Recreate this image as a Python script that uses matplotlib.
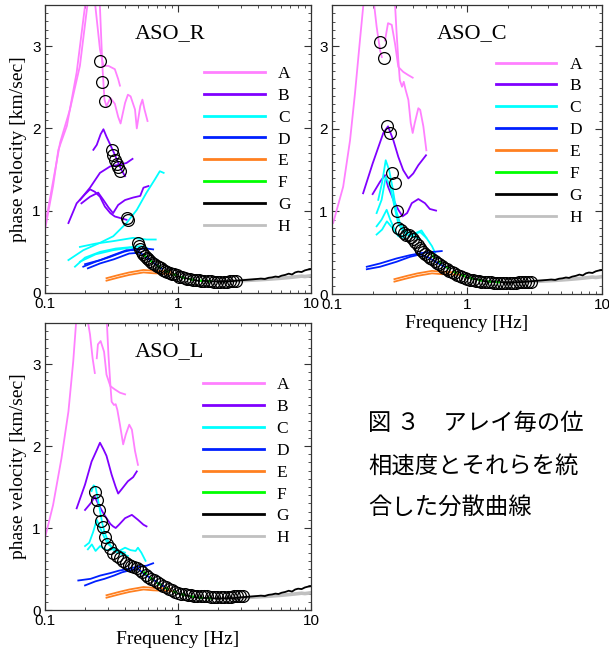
import matplotlib
matplotlib.use("Agg")
import matplotlib.pyplot as plt
from matplotlib.lines import Line2D
from matplotlib.ticker import LogLocator, MultipleLocator, NullFormatter, FixedLocator, FixedFormatter

# ---------------- data ----------------
LEGEND_LABELS = ["A", "B", "C", "D", "E", "F", "G", "H"]
COLORS = {"A": "#ff80ff", "B": "#8000ff", "C": "#00ffff", "D": "#0020ff",
          "E": "#ff8020", "F": "#00ff00", "G": "#000000", "H": "#c0c0c0"}

# ---- ASO_R ----
R_A = [
    ([0.097, 0.115, 0.126, 0.146, 0.173, 0.2, 0.205], [0.65, 1.3, 1.74, 2.03, 2.68, 3.49, 3.6]),
    ([0.103, 0.13, 0.154, 0.183, 0.208, 0.212], [0.93, 1.83, 2.23, 2.76, 3.49, 3.6]),
    ([0.235, 0.259, 0.275, 0.3, 0.335, 0.355, 0.366], [3.6, 2.96, 2.76, 2.76, 2.72, 2.6, 2.52]),
    ([0.257, 0.27, 0.28, 0.29, 0.31, 0.335, 0.355, 0.37, 0.4, 0.42, 0.44, 0.475, 0.49, 0.52, 0.54, 0.56, 0.59],
     [3.6, 2.76, 2.35, 2.27, 2.37, 2.3, 2.14, 2.06, 2.31, 2.41, 2.39, 2.23, 2.0, 2.27, 2.35, 2.23, 2.09]),
]
R_B = [
    ([0.231, 0.245, 0.262, 0.275, 0.29, 0.31, 0.335, 0.36, 0.38, 0.4], [1.74, 1.8, 1.93, 1.99, 1.9, 1.8, 1.68, 1.56, 1.48, 1.42]),
    ([0.183, 0.218, 0.259, 0.31, 0.366, 0.41, 0.455], [1.13, 1.28, 1.46, 1.54, 1.56, 1.58, 1.63]),
    ([0.15, 0.173, 0.2, 0.218, 0.237, 0.259, 0.282, 0.31, 0.335, 0.37, 0.41], [0.85, 1.09, 1.2, 1.26, 1.23, 1.17, 1.05, 0.97, 0.93, 0.91, 0.89]),
    ([0.188, 0.218, 0.251, 0.275, 0.3, 0.325, 0.355, 0.4, 0.46, 0.52, 0.55, 0.6], [1.09, 1.17, 1.22, 1.13, 1.04, 0.97, 1.07, 1.13, 1.16, 1.18, 1.28, 1.3]),
]
R_C = [
    ([0.15, 0.194, 0.259, 0.326, 0.41, 0.49, 0.58, 0.67, 0.73, 0.78], [0.40, 0.52, 0.61, 0.69, 0.85, 1.01, 1.22, 1.38, 1.48, 1.46]),
    ([0.183, 0.24, 0.325, 0.46, 0.58, 0.68], [0.56, 0.60, 0.63, 0.67, 0.65, 0.65]),
    ([0.168, 0.2, 0.26, 0.34, 0.46, 0.53, 0.58], [0.32, 0.43, 0.50, 0.54, 0.56, 0.57, 0.55]),
    ([0.183, 0.24, 0.325, 0.43, 0.5], [0.38, 0.47, 0.52, 0.55, 0.54]),
]
R_D = [
    ([0.194, 0.24, 0.31, 0.39, 0.46, 0.58, 0.65], [0.32, 0.38, 0.44, 0.50, 0.53, 0.54, 0.53]),
    ([0.2, 0.26, 0.325, 0.41, 0.49, 0.56, 0.65, 0.75], [0.35, 0.40, 0.46, 0.52, 0.52, 0.45, 0.37, 0.30]),
    ([0.21, 0.26, 0.33, 0.43, 0.52], [0.30, 0.36, 0.41, 0.48, 0.49]),
]
R_CIRC_F = [0.259, 0.267, 0.282, 0.317, 0.325, 0.335, 0.345, 0.355, 0.366, 0.41, 0.42,
            0.50, 0.51, 0.52, 0.535, 0.55, 0.565, 0.58, 0.6, 0.62, 0.64, 0.665, 0.69, 0.715, 0.74,
            0.77, 0.8, 0.83, 0.865, 0.9, 0.94, 0.98, 1.02, 1.07, 1.12, 1.17, 1.23, 1.29, 1.36,
            1.43, 1.5, 1.58, 1.67, 1.76, 1.86, 1.97, 2.08, 2.2, 2.33, 2.47, 2.61, 2.75]
R_CIRC_V = [2.82, 2.56, 2.33, 1.74, 1.68, 1.62, 1.57, 1.53, 1.48, 0.91, 0.89,
            0.61, 0.57, 0.53, 0.50, 0.47, 0.45, 0.43, 0.41, 0.39, 0.37, 0.35, 0.33, 0.315, 0.30,
            0.28, 0.265, 0.255, 0.245, 0.235, 0.225, 0.215, 0.2, 0.19, 0.18, 0.175, 0.168, 0.162, 0.157,
            0.152, 0.148, 0.145, 0.142, 0.14, 0.139, 0.138, 0.138, 0.138, 0.139, 0.141, 0.143, 0.146]

# ---- ASO_C ----
C_A = [
    ([0.102, 0.121, 0.136, 0.148, 0.161, 0.173], [0.86, 1.30, 1.86, 2.43, 3.07, 3.6]),
    ([0.202, 0.214, 0.227, 0.234], [3.6, 3.24, 2.95, 2.87]),
    ([0.247, 0.26, 0.277, 0.293, 0.31, 0.337, 0.368, 0.396], [3.07, 3.28, 3.26, 3.03, 2.75, 2.69, 2.65, 2.62]),
    ([0.291, 0.3, 0.31, 0.318, 0.33, 0.34, 0.35, 0.368, 0.383, 0.396, 0.41, 0.436, 0.45, 0.475, 0.5],
     [3.6, 3.2, 2.83, 2.59, 2.51, 2.57, 2.48, 2.35, 2.07, 1.95, 2.07, 2.25, 2.23, 2.03, 1.74]),
]
C_B = [
    ([0.17, 0.2, 0.24, 0.26, 0.285, 0.31, 0.337, 0.368, 0.4, 0.436, 0.497], [1.22, 1.58, 1.95, 2.03, 1.86, 1.66, 1.50, 1.40, 1.46, 1.56, 1.68]),
    ([0.2, 0.227, 0.247, 0.26, 0.285, 0.31, 0.333, 0.36, 0.39, 0.436, 0.488, 0.53, 0.59], [1.21, 1.36, 1.44, 1.30, 1.14, 1.02, 0.94, 0.98, 1.10, 1.15, 1.10, 1.03, 1.01]),
]
C_C = [
    ([0.22, 0.235, 0.25, 0.265, 0.28, 0.3, 0.32, 0.35, 0.4, 0.45, 0.5, 0.55, 0.58], [1.14, 1.35, 1.62, 1.5, 1.3, 1.0, 0.85, 0.76, 0.72, 0.75, 0.68, 0.58, 0.5]),
    ([0.214, 0.233, 0.25, 0.27, 0.29, 0.31, 0.34, 0.38, 0.42, 0.46, 0.5], [0.98, 1.14, 1.42, 1.3, 1.06, 0.85, 0.75, 0.7, 0.74, 0.77, 0.68]),
    ([0.214, 0.233, 0.254, 0.27, 0.3, 0.33, 0.36, 0.4, 0.45], [0.82, 0.9, 1.02, 0.9, 0.73, 0.7, 0.72, 0.7, 0.66]),
    ([0.214, 0.235, 0.255, 0.28, 0.31, 0.35], [0.72, 0.78, 0.88, 0.8, 0.7, 0.68]),
]
C_D = [
    ([0.181, 0.227, 0.3, 0.378, 0.475, 0.56, 0.65], [0.33, 0.37, 0.43, 0.47, 0.50, 0.51, 0.52]),
    ([0.181, 0.227, 0.3, 0.378, 0.45, 0.52, 0.6, 0.7], [0.30, 0.33, 0.39, 0.45, 0.48, 0.44, 0.38, 0.32]),
]
C_CIRC_F = [0.227, 0.243, 0.257, 0.27, 0.277, 0.293, 0.305,
            0.31, 0.325, 0.34, 0.355, 0.37, 0.385, 0.4, 0.415, 0.43, 0.445, 0.46, 0.475, 0.49, 0.51,
            0.53, 0.55, 0.575, 0.6, 0.625, 0.65, 0.68, 0.71, 0.74, 0.77, 0.8, 0.84, 0.88, 0.92, 0.96,
            1.0, 1.05, 1.1, 1.16, 1.22, 1.28, 1.35, 1.42, 1.5, 1.58, 1.67, 1.76, 1.86, 1.96, 2.07,
            2.18, 2.3, 2.43, 2.56, 2.7, 2.85, 3.0]
C_CIRC_V = [3.05, 2.86, 2.04, 1.95, 1.47, 1.35, 1.0,
            0.80, 0.77, 0.74, 0.72, 0.71, 0.69, 0.67, 0.63, 0.59, 0.56, 0.53, 0.51, 0.49, 0.46,
            0.44, 0.42, 0.40, 0.38, 0.36, 0.34, 0.32, 0.30, 0.28, 0.265, 0.25, 0.235, 0.22, 0.205, 0.195,
            0.185, 0.175, 0.167, 0.16, 0.155, 0.15, 0.146, 0.143, 0.14, 0.138, 0.137, 0.137, 0.137, 0.137, 0.137,
            0.138, 0.139, 0.14, 0.142, 0.144, 0.146, 0.15]

# ---- ASO_L ----
L_A = [
    ([0.1, 0.115, 0.133, 0.15, 0.163, 0.173], [0.88, 1.28, 1.85, 2.42, 3.03, 3.6]),
    ([0.206, 0.218, 0.228, 0.237], [3.6, 3.36, 3.07, 2.89]),
    ([0.245, 0.25, 0.262, 0.278, 0.29, 0.31, 0.335, 0.366, 0.4], [3.07, 3.24, 3.28, 3.15, 2.87, 2.73, 2.69, 2.65, 2.63]),
    ([0.29, 0.3, 0.31, 0.317, 0.33, 0.34, 0.35, 0.366, 0.387, 0.405, 0.43, 0.45, 0.475, 0.5],
     [3.6, 3.11, 2.75, 2.54, 2.5, 2.51, 2.44, 2.26, 2.02, 2.14, 2.26, 2.2, 1.94, 1.77]),
]
L_B = [
    ([0.173, 0.2, 0.224, 0.245, 0.259, 0.275, 0.29, 0.317, 0.34, 0.355, 0.38, 0.42, 0.46, 0.49],
     [1.24, 1.53, 1.81, 1.95, 2.04, 1.96, 1.88, 1.65, 1.5, 1.42, 1.48, 1.57, 1.62, 1.69]),
    ([0.2, 0.22, 0.237, 0.25, 0.27, 0.29, 0.31, 0.325, 0.34, 0.36, 0.4, 0.45, 0.5, 0.55, 0.58],
     [1.22, 1.3, 1.38, 1.3, 1.2, 1.12, 1.05, 1.02, 1.0, 1.04, 1.12, 1.16, 1.1, 1.04, 1.02]),
]
L_C = [
    ([0.224, 0.232, 0.24, 0.25, 0.26, 0.27, 0.28, 0.3, 0.32, 0.35, 0.38, 0.42], [1.45, 1.52, 1.5, 1.35, 1.2, 1.05, 0.95, 0.83, 0.75, 0.7, 0.68, 0.66]),
    ([0.2, 0.215, 0.23, 0.245, 0.26, 0.28, 0.3, 0.33, 0.36, 0.4], [0.78, 0.82, 0.95, 1.1, 1.0, 0.88, 0.8, 0.75, 0.72, 0.7]),
    ([0.21, 0.225, 0.24, 0.26, 0.29, 0.32, 0.36, 0.4, 0.44, 0.48, 0.5, 0.53, 0.57], [0.74, 0.8, 0.72, 0.78, 0.73, 0.74, 0.72, 0.76, 0.73, 0.72, 0.76, 0.7, 0.6]),
]
L_D = [
    ([0.178, 0.22, 0.26, 0.31, 0.36, 0.42, 0.5, 0.58, 0.65], [0.36, 0.38, 0.42, 0.45, 0.48, 0.50, 0.53, 0.54, 0.57]),
    ([0.2, 0.24, 0.28, 0.33, 0.38, 0.45, 0.5, 0.58, 0.68, 0.78], [0.30, 0.35, 0.38, 0.42, 0.46, 0.49, 0.50, 0.42, 0.35, 0.29]),
]
L_CIRC_F = [0.237, 0.245, 0.255, 0.264, 0.275, 0.282, 0.295, 0.31, 0.325, 0.345, 0.366, 0.385, 0.405,
            0.425, 0.445, 0.465, 0.49, 0.515, 0.54, 0.57, 0.6, 0.63, 0.66, 0.69, 0.73, 0.77, 0.81,
            0.85, 0.9, 0.95, 1.0, 1.06, 1.12, 1.18, 1.25, 1.32, 1.4, 1.48, 1.57, 1.66, 1.76, 1.87,
            1.98, 2.1, 2.23, 2.36, 2.5, 2.65, 2.8, 2.95, 3.1]
L_CIRC_V = [1.44, 1.34, 1.22, 1.08, 1.01, 0.89, 0.81, 0.76, 0.70, 0.66, 0.63, 0.60, 0.575,
            0.55, 0.535, 0.52, 0.51, 0.49, 0.46, 0.43, 0.40, 0.38, 0.36, 0.345, 0.32, 0.295, 0.275,
            0.26, 0.24, 0.225, 0.21, 0.2, 0.19, 0.182, 0.177, 0.173, 0.17, 0.168, 0.166, 0.165, 0.164, 0.163,
            0.163, 0.163, 0.163, 0.164, 0.164, 0.165, 0.165, 0.166, 0.167]

# ---- shared arrays E-H ----
E_CURVES = [
    ([0.29, 0.36, 0.43, 0.55, 0.65, 0.77, 0.87, 0.95], [0.15, 0.19, 0.22, 0.25, 0.24, 0.235, 0.235, 0.22]),
    ([0.29, 0.36, 0.43, 0.55, 0.65, 0.77, 0.87], [0.18, 0.22, 0.25, 0.28, 0.27, 0.265, 0.26]),
]
F_FREQ = [0.55, 0.6, 0.7, 0.8, 0.9, 1.0, 1.2, 1.4, 1.6, 1.9]
F_VEL = [0.47, 0.41, 0.33, 0.27, 0.235, 0.205, 0.17, 0.153, 0.145, 0.14]
G_FREQ = [1.0, 1.4, 2.0, 2.6, 3.0, 3.3, 3.6, 3.9, 4.2, 4.5, 4.8, 5.1, 5.4, 5.7, 6.0, 6.4, 6.8,
          7.2, 7.6, 8.0, 8.5, 9.0, 9.5, 10.0]
G_VEL = [0.2, 0.15, 0.14, 0.145, 0.155, 0.16, 0.165, 0.17, 0.175, 0.17, 0.185, 0.19, 0.2, 0.195,
         0.21, 0.22, 0.235, 0.225, 0.25, 0.26, 0.255, 0.275, 0.285, 0.29]
H_FREQ = [2.0, 2.5, 3.0, 3.5, 4.0, 4.5, 5.0, 5.5, 6.0, 6.5, 7.0, 7.5, 8.0, 8.5, 9.0, 9.5, 10.0]
H_VEL = [0.14, 0.145, 0.15, 0.155, 0.16, 0.165, 0.17, 0.175, 0.18, 0.185, 0.19, 0.195, 0.2,
         0.205, 0.2, 0.205, 0.21]

X_TICKS = [0.1, 1, 10]
X_TICKLABELS = ["0.1", "1", "10"]
Y_TICKS = [0, 1, 2, 3]
CAPTION = ["図 ３　アレイ毎の位", "相速度とそれらを統", "合した分散曲線"]

PANELS = [
    dict(title="ASO_R", A=R_A, B=R_B, C=R_C, D=R_D, cf=R_CIRC_F, cv=R_CIRC_V,
         rect=[45, 5, 311, 293], ylabel=True, xlabel=False, tpos=(0.47, 0.90), leg=(0.598, 0.789)),
    dict(title="ASO_C", A=C_A, B=C_B, C=C_C, D=C_D, cf=C_CIRC_F, cv=C_CIRC_V,
         rect=[332, 5, 602, 294], ylabel=False, xlabel=True, tpos=(0.52, 0.90), leg=(0.606, 0.822)),
    dict(title="ASO_L", A=L_A, B=L_B, C=L_C, D=L_D, cf=L_CIRC_F, cv=L_CIRC_V,
         rect=[45, 323, 311, 610], ylabel=True, xlabel=True, tpos=(0.466, 0.90), leg=(0.593, 0.812)),
]

W, H = 609, 653
fig = plt.figure(figsize=(W / 100, H / 100), dpi=100)
SERIF = "Liberation Serif"
SANS = "Liberation Sans"

for p in PANELS:
    x0, y0, x1, y1 = p["rect"]
    ax = fig.add_axes([x0 / W, 1 - y1 / H, (x1 - x0) / W, (y1 - y0) / H])
    ax.set_xscale("log")
    ax.set_xlim(0.1, 10)
    ax.set_ylim(0, 3.5)
    lw = 1.3
    for key in ["A", "B", "C", "D"]:
        for f, v in p[key]:
            ax.plot(f, v, color=COLORS[key], lw=lw, zorder=2)
    for f, v in E_CURVES:
        ax.plot(f, v, color=COLORS["E"], lw=lw, zorder=2)
    ax.plot(H_FREQ, H_VEL, color=COLORS["H"], lw=2.6, zorder=2)
    ax.plot(G_FREQ, G_VEL, color=COLORS["G"], lw=1.3, zorder=3)
    ax.plot(F_FREQ, F_VEL, color=COLORS["F"], lw=1.6, ls=(0, (2, 2)), zorder=3)
    ax.plot(p["cf"], p["cv"], ls="none", marker="o", ms=8.5, mfc="none", mec="black",
            mew=0.9, zorder=4, clip_on=True)

    # ticks
    ax.xaxis.set_major_locator(FixedLocator(X_TICKS))
    ax.xaxis.set_major_formatter(FixedFormatter(X_TICKLABELS))
    ax.xaxis.set_minor_locator(LogLocator(base=10, subs=range(2, 10)))
    ax.xaxis.set_minor_formatter(NullFormatter())
    ax.yaxis.set_major_locator(FixedLocator(Y_TICKS))
    ax.yaxis.set_minor_locator(MultipleLocator(0.1))
    ax.tick_params(which="both", direction="in", top=True, right=True, color="#333333")
    ax.tick_params(which="major", length=5, width=0.8, labelsize=11, pad=3)
    ax.tick_params(which="minor", length=2.5, width=0.6)
    for lab in ax.get_xticklabels() + ax.get_yticklabels():
        lab.set_fontfamily(SANS)
    for s in ax.spines.values():
        s.set_color("#333333")
        s.set_linewidth(0.9)

    if p["ylabel"]:
        ax.set_ylabel("phase velocity [km/sec]", family=SERIF, fontsize=14, labelpad=4)
    if p["xlabel"]:
        ax.set_xlabel("Frequency [Hz]", family=SERIF, fontsize=14, labelpad=2)
    ax.text(p["tpos"][0], p["tpos"][1], p["title"], transform=ax.transAxes, family=SERIF,
            fontsize=16, ha="center", va="center")

    handles = [Line2D([], [], color=COLORS[k], lw=2.0) for k in LEGEND_LABELS]
    ax.legend(handles, LEGEND_LABELS, loc="upper left", bbox_to_anchor=p["leg"],
              frameon=False, prop={"family": SERIF, "size": 12.5}, handlelength=3.5,
              handletextpad=0.75, labelspacing=0.33, borderpad=0, borderaxespad=0)

ys = [423, 466, 507]
for t, yy in zip(CAPTION, ys):
    fig.text(368 / W, 1 - yy / H, t, family=["Noto Sans CJK JP", "DejaVu Sans"],
             fontsize=16.8, ha="left", va="center")

fig.savefig("out.png", dpi=100)
